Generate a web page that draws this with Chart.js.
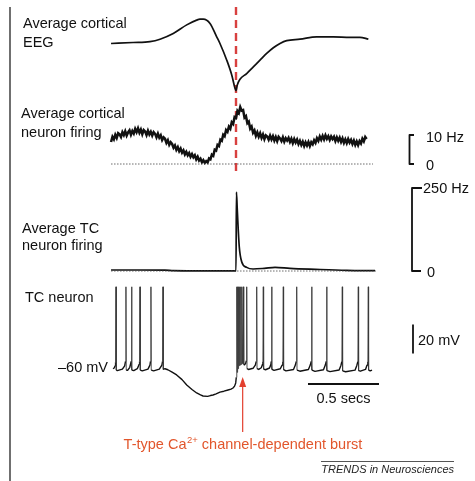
<!DOCTYPE html>
<html><head><meta charset="utf-8">
<script src="https://cdn.jsdelivr.net/npm/chart.js@4.4.1/dist/chart.umd.min.js"></script>
<style>html,body{margin:0;padding:0;background:#fff;}#wrap{width:475px;height:481px;position:relative;}</style>
</head><body><div id="wrap"><canvas id="c" width="475" height="481"></canvas></div>
<script>
// ===== DATA (time in s, relative to the burst / EEG trough) =====
const eegTime = [-0.880,-0.725,-0.606,-0.535,-0.442,-0.347,-0.277,-0.254,-0.230,-0.183,-0.136,-0.113,-0.065,-0.030,-0.007,0.000,0.009,0.028,0.075,0.122,0.169,0.216,0.263,0.310,0.357,0.451,0.568,0.685,0.803,0.873,0.932];
const eegValue = [-0.01,0.01,0.03,0.08,0.20,0.38,0.48,0.50,0.50,0.41,0.13,-0.01,-0.36,-0.67,-0.95,-1.00,-0.88,-0.76,-0.64,-0.50,-0.36,-0.22,-0.10,-0.01,0.05,0.08,0.13,0.13,0.12,0.12,0.08];

const cortTime = [-0.88,-0.87,-0.86,-0.85,-0.84,-0.83,-0.82,-0.81,-0.80,-0.79,-0.78,-0.77,-0.76,-0.75,-0.74,-0.73,-0.72,-0.71,-0.70,-0.69,-0.68,-0.67,-0.66,-0.65,-0.64,-0.63,-0.62,-0.61,-0.60,-0.59,-0.58,-0.57,-0.56,-0.55,-0.54,-0.53,-0.52,-0.51,-0.50,-0.49,-0.48,-0.47,-0.46,-0.45,-0.44,-0.43,-0.42,-0.41,-0.40,-0.39,-0.38,-0.37,-0.36,-0.35,-0.34,-0.33,-0.32,-0.31,-0.30,-0.29,-0.28,-0.27,-0.26,-0.25,-0.24,-0.23,-0.22,-0.21,-0.20,-0.19,-0.18,-0.17,-0.16,-0.15,-0.14,-0.13,-0.12,-0.11,-0.10,-0.09,-0.08,-0.07,-0.06,-0.05,-0.04,-0.03,-0.02,-0.01,0.00,0.01,0.02,0.03,0.04,0.05,0.06,0.07,0.08,0.09,0.10,0.11,0.12,0.13,0.14,0.15,0.16,0.17,0.18,0.19,0.20,0.21,0.22,0.23,0.24,0.25,0.26,0.27,0.28,0.29,0.30,0.31,0.32,0.33,0.34,0.35,0.36,0.37,0.38,0.39,0.40,0.41,0.42,0.43,0.44,0.45,0.46,0.47,0.48,0.49,0.50,0.51,0.52,0.53,0.54,0.55,0.56,0.57,0.58,0.59,0.60,0.61,0.62,0.63,0.64,0.65,0.66,0.67,0.68,0.69,0.70,0.71,0.72,0.73,0.74,0.75,0.76,0.77,0.78,0.79,0.80,0.81,0.82,0.83,0.84,0.85,0.86,0.87,0.88,0.89,0.90,0.91,0.92];
const cortRateHz = [7.6,9.4,8.5,10.1,9.0,10.6,10.2,9.3,11.0,10.0,11.3,9.8,10.9,11.6,10.1,11.4,10.5,12.1,11.0,12.3,10.8,11.9,10.3,11.7,11.2,10.0,11.5,10.2,11.1,9.8,11.0,10.4,9.2,10.5,9.1,9.9,8.3,9.2,8.7,7.3,8.2,6.6,7.5,6.9,5.6,6.4,4.9,5.8,4.4,5.3,3.9,4.7,3.3,4.2,3.0,3.8,2.5,3.4,2.3,3.0,1.6,2.5,1.2,1.8,0.6,1.3,0.4,1.0,0.5,1.9,1.6,3.2,2.8,4.9,4.6,6.6,6.2,8.4,8.0,10.1,9.6,11.7,11.1,12.9,12.2,14.4,13.8,16.2,15.9,18.3,17.6,19.6,18.4,18.6,16.0,16.5,14.1,14.6,12.2,12.9,10.8,11.6,9.7,10.9,9.4,10.6,9.0,10.2,8.6,9.9,9.5,8.4,9.8,8.5,9.6,8.1,9.3,7.9,9.4,8.8,7.9,9.2,7.7,8.9,8.1,9.0,7.6,8.7,7.2,8.6,7.4,8.4,6.9,8.0,6.6,7.7,6.2,7.5,6.4,7.6,6.2,7.5,6.8,8.2,7.3,8.9,8.0,9.5,8.4,9.7,8.5,9.9,8.7,9.6,8.3,9.5,8.6,9.4,7.9,9.2,8.0,9.1,7.6,8.8,7.3,8.5,7.2,8.6,7.4,8.3,6.9,8.1,6.6,7.8,6.5,7.9,7.1,8.7,7.8,9.3,8.6];
const cortBaselineTime = [-0.880,0.965];

const tcRateTime = [-0.880,-0.700,-0.500,-0.440,-0.300,-0.100,0.000,0.003,0.009,0.023,0.040,0.075,0.120,0.200,0.275,0.380,0.560,0.780,0.979];
const tcRateHz   = [3,3,2.5,1,0.5,0.5,0.5,238,184,73,28,11,6,8,11,8,5,2,1];
const tcBaselineTime = [-0.880,0.986];

// TC neuron membrane potential: [time s, mV]
const tcNeuronVm = [
[-0.866,-60.5],[-0.858,-60.0],[-0.851,-58.5],[-0.848,-56.0],[-0.845,-4],[-0.843,-61.5],[-0.836,-61.8],[-0.800,-60.8],[-0.784,-58.5],[-0.778,-55.5],[-0.775,-4],[-0.773,-61.5],[-0.762,-61.5],[-0.748,-59.5],[-0.738,-55.5],[-0.735,-4],[-0.733,-61.5],[-0.720,-61.8],[-0.695,-60.5],[-0.682,-57.5],[-0.679,-55.5],[-0.676,-4],[-0.674,-61.5],[-0.660,-62.0],[-0.620,-60.8],[-0.606,-58.0],[-0.602,-55.5],[-0.599,-4],[-0.597,-61.5],[-0.580,-62.0],[-0.540,-60.8],[-0.522,-58.0],[-0.517,-55.5],[-0.514,-4],[-0.512,-61.0],[-0.500,-60.5],[-0.480,-61.2],
[-0.450,-62.8],[-0.418,-64.8],[-0.380,-68.0],[-0.347,-71.7],[-0.310,-74.8],[-0.277,-77.2],[-0.250,-78.6],[-0.232,-79.3],[-0.200,-79.6],[-0.180,-79.0],[-0.162,-78.6],[-0.140,-77.8],[-0.113,-76.6],[-0.085,-76.0],[-0.056,-75.2],[-0.035,-74.6],[-0.021,-73.8],[-0.010,-72.5],[-0.002,-70.3],[0.002,-66.5],
[0.0042,-4],[0.0056,-64.5],[0.0070,-4],[0.0085,-63.0],[0.0099,-4],[0.0113,-61.5],[0.0127,-4],[0.0145,-60.5],[0.0162,-4],[0.0180,-59.5],[0.0197,-4],[0.0218,-58.5],[0.0239,-4],[0.0285,-58.0],[0.0331,-4],[0.0370,-57.5],[0.0408,-4],[0.0460,-57.0],[0.0514,-4],[0.0545,-57.5],[0.060,-57.8],[0.068,-56.8],[0.073,-55.0],[0.0754,-4],
[0.0775,-60.5],[0.088,-61.0],[0.120,-60.2],[0.136,-58.0],[0.1425,-55.5],[0.1458,-4],[0.148,-60.5],[0.160,-61.0],[0.178,-59.8],[0.187,-57.5],[0.1895,-55.5],[0.1923,-4],[0.1945,-60.8],[0.208,-61.2],[0.236,-60.0],[0.246,-57.5],[0.2485,-55.5],[0.2514,-4],[0.2535,-61.0],[0.268,-61.6],[0.312,-60.5],[0.325,-58.0],[0.330,-55.5],[0.3331,-4],[0.3352,-61.2],[0.352,-62.0],[0.405,-61.0],[0.418,-58.0],[0.4245,-55.5],[0.4275,-4],[0.4296,-61.5],[0.450,-62.2],[0.510,-61.0],[0.523,-58.0],[0.530,-55.5],[0.5331,-4],[0.5352,-61.5],[0.556,-62.3],[0.616,-61.2],[0.629,-58.0],[0.6357,-55.5],[0.6387,-4],[0.6408,-61.8],[0.662,-62.5],[0.726,-61.4],[0.739,-58.2],[0.7456,-55.5],[0.7486,-4],[0.7507,-62.0],[0.772,-62.6],[0.838,-61.5],[0.851,-58.2],[0.8583,-55.5],[0.8613,-4],[0.8634,-61.8],[0.876,-62.2],[0.912,-61.0],[0.923,-58.0],[0.9287,-55.5],[0.9317,-4],[0.9338,-61.5],[0.945,-62.0],[0.958,-61.5]
];

const eventTime = 0;          // EEG trough / dashed red line
const burstTime = 0.047;      // T-type burst (arrow)
const scaleCortHz = [0, 10];
const scaleTcHz = [0, 250];
const scaleVm = [-50, -30];   // 20 mV bar
const scaleTime = [0.507, 1.007]; // 0.5 s bar
const restingMv = -60;

const panelLabels = [
  ["Average cortical", "EEG"],
  ["Average cortical", "neuron firing"],
  ["Average TC", "neuron firing"],
  ["TC neuron"]
];
const burstCaption = ["T-type Ca", "2+", " channel-dependent burst"];
const sourceText = "TRENDS in Neurosciences";

// ===== LAYOUT =====
const W = 475, H = 481;
const X0 = 236, PX_PER_S = 142;
const tAt = px => (px - X0) / PX_PER_S;
function yRange(val, px, pxPerUnit) { return { min: val - (H - px) / pxPerUnit, max: val + px / pxPerUnit }; }
const rEEG = yRange(0, 43, 47.7);
const rCort = yRange(0, 164, 2.9);
const rTc = yRange(0, 271, 0.332);
const rVm = yRange(-60, 368, 1.45);

const xy = (ts, vs) => ts.map((t, i) => ({ x: t, y: vs[i] }));
const FONT = '"Liberation Sans", Arial, Helvetica, sans-serif';

const base = { pointRadius: 0, fill: false, borderColor: '#111', tension: 0, borderCapStyle: 'butt' };
const steep = c => Math.abs(c.p1.parsed.y - c.p0.parsed.y) > 20;

const datasets = [
  Object.assign({}, base, { label: 'EEG', yAxisID: 'yEEG', data: xy(eegTime, eegValue), borderWidth: 1.7, cubicInterpolationMode: 'monotone' }),
  Object.assign({}, base, { label: 'cort0', yAxisID: 'yCort', data: xy(cortBaselineTime, [0, 0]), borderWidth: 0.8, borderColor: '#444', borderDash: [1.5, 1.5] }),
  Object.assign({}, base, { label: 'Cortical firing', yAxisID: 'yCort', data: xy(cortTime, cortRateHz), borderWidth: 2.5, borderJoinStyle: 'miter' }),
  Object.assign({}, base, { label: 'tc0', yAxisID: 'yTc', data: xy(tcBaselineTime, [0, 0]), borderWidth: 0.8, borderColor: '#444', borderDash: [1.5, 1.5] }),
  Object.assign({}, base, { label: 'TC firing', yAxisID: 'yTc', data: xy(tcRateTime, tcRateHz), borderWidth: 1.7, cubicInterpolationMode: 'monotone' }),
  Object.assign({}, base, { label: 'TC Vm', yAxisID: 'yVm', data: tcNeuronVm.map(p => ({ x: p[0], y: p[1] })), borderWidth: 1.3, borderColor: '#1a1a1a',
    segment: { borderWidth: c => steep(c) ? 0.9 : 1.4, borderColor: c => steep(c) ? '#3a3a3a' : '#111' } }),
  Object.assign({}, base, { label: 'bar10', yAxisID: 'yCort', borderWidth: 1.8, data: [{ x: tAt(414), y: scaleCortHz[1] }, { x: tAt(409.5), y: scaleCortHz[1] }, { x: tAt(409.5), y: scaleCortHz[0] }, { x: tAt(414), y: scaleCortHz[0] }] }),
  Object.assign({}, base, { label: 'bar250', yAxisID: 'yTc', borderWidth: 1.8, data: [{ x: tAt(422), y: scaleTcHz[1] }, { x: tAt(412), y: scaleTcHz[1] }, { x: tAt(412), y: scaleTcHz[0] }, { x: tAt(421), y: scaleTcHz[0] }] }),
  Object.assign({}, base, { label: 'bar20mV', yAxisID: 'yVm', borderWidth: 1.8, data: [{ x: tAt(413), y: scaleVm[0] }, { x: tAt(413), y: scaleVm[1] }] }),
  Object.assign({}, base, { label: 'bar0.5s', yAxisID: 'yVm', borderWidth: 2, data: [{ x: scaleTime[0], y: -71 }, { x: scaleTime[1], y: -71 }] })
];

const deco = {
  id: 'deco',
  beforeDatasetsDraw(chart) {
    const ctx = chart.ctx, x = chart.scales.x.getPixelForValue(eventTime);
    ctx.save();
    ctx.strokeStyle = '#d8403f'; ctx.lineWidth = 2.4; ctx.setLineDash([8, 5]);
    ctx.beginPath(); ctx.moveTo(x, 7); ctx.lineTo(x, 174); ctx.stroke();
    ctx.restore();
  },
  afterDatasetsDraw(chart) {
    const ctx = chart.ctx, sx = chart.scales.x;
    ctx.save();
    ctx.strokeStyle = '#333'; ctx.lineWidth = 1.4;
    ctx.beginPath(); ctx.moveTo(10, 7); ctx.lineTo(10, H); ctx.stroke();
    ctx.fillStyle = '#111'; ctx.textBaseline = 'middle'; ctx.textAlign = 'left';
    ctx.font = '14.5px ' + FONT;
    const lp = [[23, 24, 43], [21, 114, 133], [22, 229, 246], [25, 298]];
    panelLabels.forEach((lines, i) => lines.forEach((s, j) => ctx.fillText(s, lp[i][0], lp[i][1 + j])));
    ctx.textAlign = 'right';
    ctx.fillText('\u201360 mV', 108, chart.scales.yVm.getPixelForValue(restingMv));
    ctx.textAlign = 'left';
    const yc = chart.scales.yCort, yt = chart.scales.yTc, yv = chart.scales.yVm;
    ctx.fillText(scaleCortHz[1] + ' Hz', 426, yc.getPixelForValue(scaleCortHz[1]) + 3);
    ctx.fillText(String(scaleCortHz[0]), 426, yc.getPixelForValue(scaleCortHz[0]) + 2);
    ctx.fillText(scaleTcHz[1] + ' Hz', 423, yt.getPixelForValue(scaleTcHz[1]) + 1);
    ctx.fillText(String(scaleTcHz[0]), 427, yt.getPixelForValue(scaleTcHz[0]) + 2);
    ctx.fillText(Math.round(scaleVm[1] - scaleVm[0]) + ' mV', 418, (yv.getPixelForValue(scaleVm[0]) + yv.getPixelForValue(scaleVm[1])) / 2 + 2);
    ctx.textAlign = 'center';
    ctx.fillText((scaleTime[1] - scaleTime[0]).toFixed(1) + ' secs', (sx.getPixelForValue(scaleTime[0]) + sx.getPixelForValue(scaleTime[1])) / 2, 399);
    const ax = sx.getPixelForValue(burstTime);
    ctx.strokeStyle = '#e3402f'; ctx.fillStyle = '#e3402f'; ctx.lineWidth = 1.2;
    ctx.beginPath(); ctx.moveTo(ax, 384); ctx.lineTo(ax, 432); ctx.stroke();
    ctx.beginPath(); ctx.moveTo(ax, 377); ctx.lineTo(ax - 3.5, 387); ctx.lineTo(ax + 3.5, 387); ctx.closePath(); ctx.fill();
    ctx.fillStyle = '#e2562c'; ctx.textAlign = 'left';
    const f1 = '14.5px ' + FONT, f2 = '9.5px ' + FONT;
    ctx.font = f1; const w1 = ctx.measureText(burstCaption[0]).width, w3 = ctx.measureText(burstCaption[2]).width;
    ctx.font = f2; const w2 = ctx.measureText(burstCaption[1]).width;
    let cx = ax - (w1 + w2 + w3) / 2; const cy = 445;
    ctx.font = f1; ctx.fillText(burstCaption[0], cx, cy); cx += w1;
    ctx.font = f2; ctx.fillText(burstCaption[1], cx + 0.5, cy - 5); cx += w2 + 0.5;
    ctx.font = f1; ctx.fillText(burstCaption[2], cx, cy);
    ctx.strokeStyle = '#555'; ctx.lineWidth = 1;
    ctx.beginPath(); ctx.moveTo(321, 461.5); ctx.lineTo(454, 461.5); ctx.stroke();
    ctx.fillStyle = '#222'; ctx.textAlign = 'right'; ctx.font = 'italic 11px ' + FONT;
    ctx.fillText(sourceText, 454, 469.5);
    ctx.restore();
  }
};

new Chart(document.getElementById('c'), {
  type: 'line',
  data: { datasets },
  options: {
    responsive: false, animation: false, devicePixelRatio: 1,
    layout: { padding: 0 },
    plugins: { legend: { display: false }, tooltip: { enabled: false }, title: { display: false } },
    elements: { line: { borderJoinStyle: 'round' } },
    scales: {
      x: { type: 'linear', display: false, min: tAt(0), max: tAt(W) },
      yEEG: { type: 'linear', display: false, min: rEEG.min, max: rEEG.max },
      yCort: { type: 'linear', display: false, min: rCort.min, max: rCort.max },
      yTc: { type: 'linear', display: false, min: rTc.min, max: rTc.max },
      yVm: { type: 'linear', display: false, min: rVm.min, max: rVm.max }
    }
  },
  plugins: [deco]
});
</script></body></html>
